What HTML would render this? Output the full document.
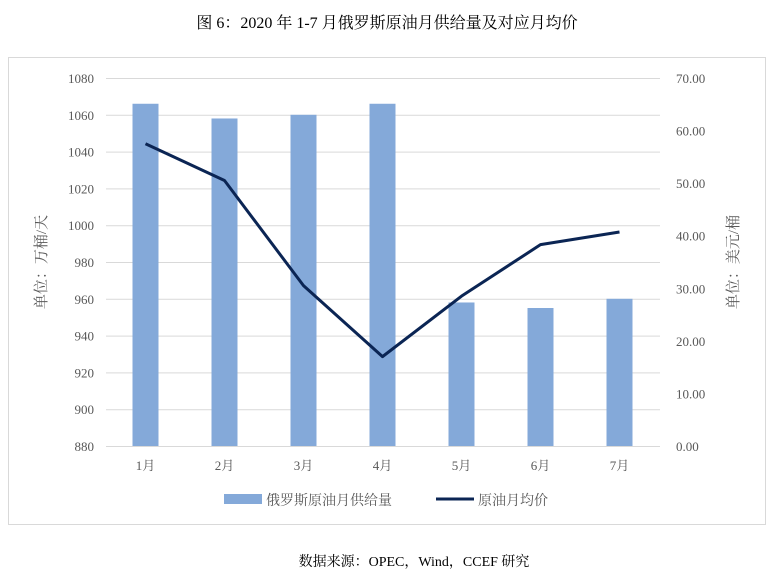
<!DOCTYPE html>
<html><head><meta charset="utf-8"><style>
body{margin:0;background:#fff;width:774px;height:578px;overflow:hidden}
svg{display:block}
text{font-family:"Liberation Serif","Noto Serif CJK SC",serif;fill:#595959}
</style></head><body>
<svg width="774" height="578">
<text x="387" y="28" text-anchor="middle" font-size="16" style="fill:#000">图 6：2020 年 1-7 月俄罗斯原油月供给量及对应月均价</text>
<rect x="8.5" y="57.5" width="757" height="467" fill="none" stroke="#d9d9d9"/>
<g id="grid"></g><g id="bars"></g><g id="line"></g><g id="axes"></g>
<text transform="translate(46,262) rotate(-90)" text-anchor="middle" font-size="15">单位：万桶/天</text>
<text transform="translate(738,262) rotate(-90)" text-anchor="middle" font-size="15">单位：美元/桶</text>
<rect x="224" y="494" width="38" height="10" fill="#84a9d9"/>
<text x="266" y="505" font-size="14">俄罗斯原油月供给量</text>
<line x1="436" y1="499" x2="474" y2="499" stroke="#0b2554" stroke-width="3"/>
<text x="478" y="505" font-size="14">原油月均价</text>
<text x="414" y="566" text-anchor="middle" font-size="14" style="fill:#000">数据来源：OPEC，Wind，CCEF 研究</text>
</svg>
<script>
const categories=["1月","2月","3月","4月","5月","6月","7月"];
const supply=[1066,1058,1060,1066,958,955,960];
const price=[57.5,50.5,30.5,17.0,28.5,38.3,40.7];
const leftTicks=[880,900,920,940,960,980,1000,1020,1040,1060,1080];
const rightTicks=["0.00","10.00","20.00","30.00","40.00","50.00","60.00","70.00"];
const NS="http://www.w3.org/2000/svg";
const X0=106,X1=659,Y0=446,Y1=78;
const step=(X1-X0)/categories.length;
const xc=i=>X0+step*(i+0.5);
const yl=v=>Y0-(v-880)/200*(Y0-Y1);
const yr=v=>Y0-v/70*(Y0-Y1);
function mk(t,a,p){const e=document.createElementNS(NS,t);for(const k in a)e.setAttribute(k,a[k]);p.appendChild(e);return e;}
const G=document.getElementById('grid'),B=document.getElementById('bars'),L=document.getElementById('line'),A=document.getElementById('axes');
leftTicks.forEach(v=>{
 const g=mk('line',{x1:X0,x2:X1+1,y1:yl(v)+.5,y2:yl(v)+.5,stroke:'#d9d9d9'},G);
 
 
 const t=mk('text',{x:94,y:yl(v)+5,'text-anchor':'end','font-size':13},A);t.textContent=v;
 
 
});
rightTicks.forEach(s=>{
 const t=mk('text',{x:676,y:yr(parseFloat(s))+5,'font-size':13},A);t.textContent=s;
 
 
});
categories.forEach((c,i)=>{
 const r=mk('rect',{x:xc(i)-13,y:yl(supply[i]),width:26,height:Y0-yl(supply[i]),fill:'#84a9d9'},B);
 
 
 const t=mk('text',{x:xc(i),y:470,'text-anchor':'middle','font-size':13},A);t.textContent=c;
 
 
});
const p=mk('polyline',{points:price.map((v,i)=>xc(i)+','+yr(v)).join(' '),fill:'none',stroke:'#0b2554','stroke-width':3,'stroke-linejoin':'round'},L);


</script>
</body></html>
